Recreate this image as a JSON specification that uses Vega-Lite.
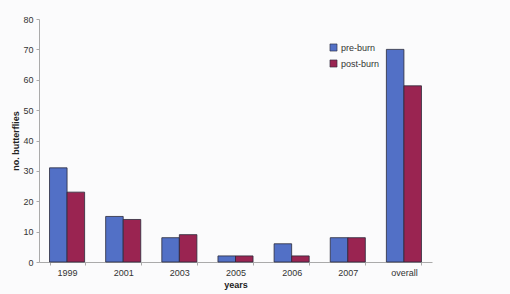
{
  "$schema": "https://vega.github.io/schema/vega-lite/v6.json",
  "width": 393,
  "height": 243,
  "autosize": {"type": "none"},
  "padding": {"left": 39, "top": 19, "right": 78, "bottom": 32},
  "background": "#fbfbfc",
  "config": {
    "font": "Liberation Sans",
    "view": {"stroke": null},
    "axis": {"labelColor": "#333333", "titleColor": "#222222", "domainColor": "#aaaaaa", "tickColor": "#aaaaaa", "labelFontSize": 9, "titleFontSize": 9, "titleFontWeight": "bold", "grid": false}
  },
  "data": {
    "values": [
      {"year": "1999", "period": "pre-burn", "n": 31},
      {"year": "1999", "period": "post-burn", "n": 23},
      {"year": "2001", "period": "pre-burn", "n": 15},
      {"year": "2001", "period": "post-burn", "n": 14},
      {"year": "2003", "period": "pre-burn", "n": 8},
      {"year": "2003", "period": "post-burn", "n": 9},
      {"year": "2005", "period": "pre-burn", "n": 2},
      {"year": "2005", "period": "post-burn", "n": 2},
      {"year": "2006", "period": "pre-burn", "n": 6},
      {"year": "2006", "period": "post-burn", "n": 2},
      {"year": "2007", "period": "pre-burn", "n": 8},
      {"year": "2007", "period": "post-burn", "n": 8},
      {"year": "overall", "period": "pre-burn", "n": 70},
      {"year": "overall", "period": "post-burn", "n": 58}
    ]
  },
  "mark": {"type": "bar", "stroke": "#2a2a3a", "strokeWidth": 0.8},
  "encoding": {
    "x": {
      "field": "year", "type": "nominal", "sort": null, "title": "years",
      "scale": {"paddingInner": 0.375, "paddingOuter": 0.1875},
      "axis": {"labelAngle": 0, "tickBand": "extent", "tickSize": 3, "labelPadding": 3, "titlePadding": 3}
    },
    "xOffset": {"field": "period", "type": "nominal", "sort": ["pre-burn", "post-burn"]},
    "y": {
      "field": "n", "type": "quantitative", "title": "no. butterflies",
      "scale": {"domain": [0, 80]},
      "axis": {"values": [0, 10, 20, 30, 40, 50, 60, 70, 80], "labelOverlap": false, "tickSize": 3, "labelPadding": 3, "titlePadding": 2}
    },
    "color": {
      "field": "period", "type": "nominal", "sort": ["pre-burn", "post-burn"],
      "scale": {"domain": ["pre-burn", "post-burn"], "range": ["#5270c6", "#9a2451"]},
      "legend": {"title": null, "orient": "none", "legendX": 290, "legendY": 24, "symbolType": "square", "symbolSize": 50, "symbolStrokeColor": "#2a2a3a", "symbolStrokeWidth": 0.6, "labelFontSize": 9, "labelOffset": 3, "labelColor": "#333333", "rowPadding": 5}
    }
  }
}
